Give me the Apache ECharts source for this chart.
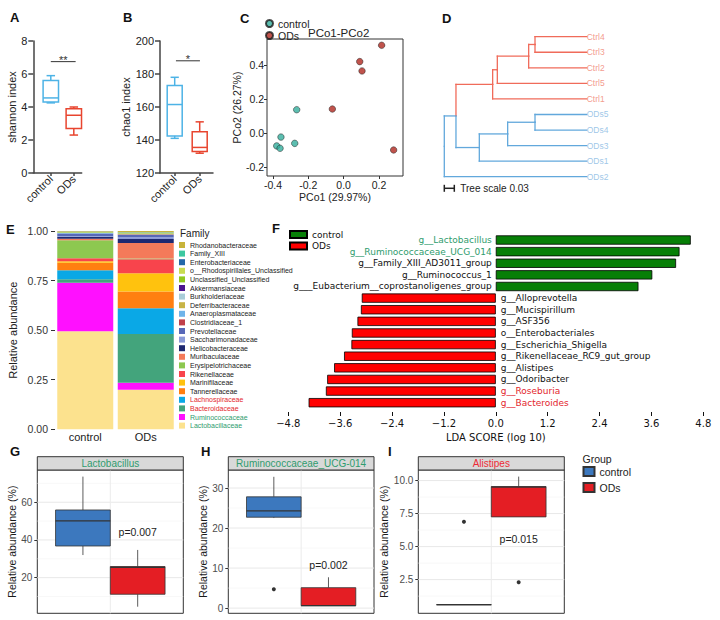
<!DOCTYPE html>
<html>
<head>
<meta charset="utf-8">
<script src="https://cdn.jsdelivr.net/npm/echarts@6.0.0/dist/echarts.min.js"></script>
<style>html,body{margin:0;padding:0;background:#fff;}#chart{width:720px;height:620px;}</style>
</head>
<body>
<div id="chart"></div>
<script>
// ================= DATA =================
const groups = ['control', 'ODs'];

// A: Shannon index, box stats [min, Q1, median, Q3, max]
const shannonControl = [4.25, 4.3, 4.55, 5.6, 5.9];
const shannonODs = [2.3, 2.7, 3.5, 3.9, 4.0];
const shannonSig = [1.0, 2.08, 6.75];          // [x from, x to, y]
// B: Chao1 index
const chao1Control = [141, 142.5, 161.5, 173, 178];
const chao1ODs = [132, 133, 135.5, 145, 151];
const chao1Sig = [1.05, 2.01, 188];
const sigLabels = ['**', '*'];

// C: PCoA coordinates [PCo1, PCo2]
const pcoaControl = [[-0.266, 0.137], [-0.355, -0.024], [-0.379, -0.076], [-0.360, -0.090], [-0.277, -0.061]];
const pcoaODs = [[-0.064, 0.141], [0.091, 0.420], [0.104, 0.365], [0.215, 0.516], [0.283, -0.100]];
const pcoaTicks = [-0.4, -0.2, 0.0, 0.2];
const pcoaYTicks = [-0.2, 0.0, 0.2, 0.4];

// D: clustering tree (node, parent, cumulative branch depth)
const treeNodes   = ['root', 'n1', 'r1', 'r2', 'r3', 'r4', 'Ctrl4', 'Ctrl3', 'Ctrl2', 'Ctrl5', 'Ctrl1', 'b1', 'b2', 'b3', 'ODs5', 'ODs4', 'ODs3', 'ODs1', 'ODs2'];
const treeParents = ['', 'root', 'n1', 'r1', 'r2', 'r3', 'r4', 'r4', 'r3', 'r2', 'r1', 'n1', 'b1', 'b2', 'b3', 'b3', 'b2', 'b1', 'root'];
const treeDepths  = [0, 0.035, 0.145, 0.159, 0.253, 0.272, 0.427, 0.427, 0.427, 0.427, 0.427, 0.105, 0.190, 0.272, 0.427, 0.427, 0.427, 0.427, 0.427];
const treeScale = 0.03;

// E: family relative abundance (legend order, top to bottom)
const families = ['Rhodanobacteraceae', 'Family_XIII', 'Enterobacteriaceae', 'o__Rhodospirillales_Unclassified', 'Unclassified_Unclassified', 'Akkermansiaceae', 'Burkholderiaceae', 'Deferribacteraceae', 'Anaeroplasmataceae', 'Clostridiaceae_1', 'Prevotellaceae', 'Saccharimonadaceae', 'Helicobacteraceae', 'Muribaculaceae', 'Erysipelotrichaceae', 'Rikenellaceae', 'Marinifilaceae', 'Tannerellaceae', 'Lachnospiraceae', 'Bacteroidaceae', 'Ruminococcaceae', 'Lactobacillaceae'];
const familyControl = [0.002, 0.001, 0.001, 0.001, 0.002, 0.001, 0.001, 0.001, 0.002, 0.001, 0.012, 0.004, 0.010, 0.008, 0.090, 0.016, 0.007, 0.038, 0.045, 0.018, 0.244, 0.495];
const familyODs     = [0.006, 0.002, 0.001, 0.001, 0.002, 0.001, 0.001, 0.002, 0.002, 0.002, 0.012, 0.008, 0.020, 0.079, 0.003, 0.071, 0.092, 0.085, 0.130, 0.245, 0.035, 0.200];

// F: LEfSe LDA scores
const ldaNames = ['g__Lactobacillus', 'g__Ruminococcaceae_UCG_014', 'g__Family_XIII_AD3011_group', 'g__Ruminococcus_1', 'g___Eubacterium__coprostanoligenes_group', 'g__Alloprevotella', 'g__Mucispirillum', 'g__ASF356', 'o__Enterobacteriales', 'g__Escherichia_Shigella', 'g__Rikenellaceae_RC9_gut_group', 'g__Alistipes', 'g__Odoribacter', 'g__Roseburia', 'g__Bacteroides'];
const ldaScores = [4.51, 4.25, 4.17, 3.62, 3.30, -3.10, -3.12, -3.20, -3.33, -3.34, -3.51, -3.74, -3.90, -3.93, -4.33];
const ldaGroup = ['control', 'control', 'control', 'control', 'control', 'ODs', 'ODs', 'ODs', 'ODs', 'ODs', 'ODs', 'ODs', 'ODs', 'ODs', 'ODs'];

// G-I: genus relative abundance (%) box stats [min, Q1, median, Q3, max]
const genusTitles = ['Lactobacillus', 'Ruminococcaceae_UCG-014', 'Alistipes'];
const lactoControl = [32.0, 36.8, 50.1, 55.9, 73.6];
const lactoODs = [4.6, 11.2, 25.5, 25.9, 34.7];
const lactoOutliers = [];
const rumiControl = [22.5, 22.7, 24.3, 27.8, 32.8];
const rumiODs = [0.6, 0.6, 0.6, 5.1, 7.7];
const rumiOutliers = [['control', 4.7]];
const alisControl = [0.6, 0.6, 0.6, 0.6, 0.6];
const alisODs = [7.25, 7.25, 9.5, 9.55, 10.3];
const alisOutliers = [['control', 6.88], ['ODs', 2.3]];
const pTexts = ['p=0.007', 'p=0.002', 'p=0.015'];
const pLabelY = [44.4, 10.75, 5.57];
const lactoTicks = [20, 40, 60], lactoMinor = [10, 30, 50, 70];
const rumiTicks = [0, 10, 20, 30], rumiMinor = [5, 15, 25];
const alisTicks = [2.5, 5.0, 7.5, 10.0], alisMinor = [1.25, 3.75, 6.25, 8.75];

// ================= STYLE / LAYOUT =================
const SANS = '"Liberation Sans", Arial, Helvetica, sans-serif';
const DV = '"DejaVu Sans", sans-serif';
const AX = '#444';
const PRISM_BLUE = '#4DB3E6', PRISM_RED = '#E8452F';
const GG_BLUE = '#3C78BE', GG_RED = '#E41E24';
const PC_CONTROL = '#33AE9C', PC_ODS = '#B0281F';
const TREE_RED = '#F06B5A', TREE_BLUE = '#62A8DC';
const familyColors = ['#C8B43A', '#3CC8A0', '#2268A8', '#C8DC50', '#90C81E', '#4B1590', '#A9CDD8', '#C8B446', '#6EB4EA', '#C0404A', '#5868B8', '#8A9AD8', '#1E2870', '#F47A5A', '#8DC850', '#F8444C', '#FFC20E', '#FF7F10', '#0AA8E6', '#43A47C', '#FF10FF', '#FCE28E'];
const GREEN_TXT = '#2F9C6E', RED_TXT = '#E3262E';
const dodgeX = { control: 0.775, ODs: 1.225 };

const chart = echarts.init(document.getElementById('chart'), null, { renderer: 'svg', width: 720, height: 620 });

// ---------- helpers ----------
function boxSeries(name, gi, x, stats, o) {
  return {
    type: 'custom', name: name, xAxisIndex: gi, yAxisIndex: gi, z: 10,
    itemStyle: { color: o.fill === 'none' ? '#fff' : o.fill, borderColor: o.stroke, borderWidth: o.lw },
    data: [[x].concat(stats)],
    renderItem: function (params, api) {
      const xv = api.value(0);
      const v = [1, 2, 3, 4, 5].map(function (i) { return api.value(i); });
      const hw = api.size([o.width, 0])[0] / 2;
      const P = v.map(function (y) { return api.coord([xv, y]); });
      const cx = P[0][0];
      const ls = { stroke: o.stroke, lineWidth: o.lw, fill: 'none' };
      const ch = [
        { type: 'line', shape: { x1: cx, y1: P[4][1], x2: cx, y2: P[3][1] }, style: ls },
        { type: 'line', shape: { x1: cx, y1: P[1][1], x2: cx, y2: P[0][1] }, style: ls },
        { type: 'rect', shape: { x: cx - hw, y: P[3][1], width: 2 * hw, height: Math.max(P[1][1] - P[3][1], 0) }, style: { fill: o.fill, stroke: o.stroke, lineWidth: o.lw } },
        { type: 'line', shape: { x1: cx - hw, y1: P[2][1], x2: cx + hw, y2: P[2][1] }, style: { stroke: o.stroke, lineWidth: o.medLw || o.lw } }
      ];
      if (o.cap) {
        const cw = hw * o.cap;
        ch.push({ type: 'line', shape: { x1: cx - cw, y1: P[4][1], x2: cx + cw, y2: P[4][1] }, style: ls });
        ch.push({ type: 'line', shape: { x1: cx - cw, y1: P[0][1], x2: cx + cw, y2: P[0][1] }, style: ls });
      }
      return { type: 'group', children: ch };
    }
  };
}
function sigSeries(gi, sig, txt) {
  return {
    type: 'custom', xAxisIndex: gi, yAxisIndex: gi, z: 6, data: [sig],
    renderItem: function (params, api) {
      const a = api.coord([api.value(0), api.value(2)]), b = api.coord([api.value(1), api.value(2)]);
      return { type: 'group', children: [
        { type: 'line', shape: { x1: a[0], y1: a[1], x2: b[0], y2: b[1] }, style: { stroke: '#333', lineWidth: 1 } },
        { type: 'text', x: (a[0] + b[0]) / 2, y: a[1] - 2, style: { text: txt, align: 'center', verticalAlign: 'middle', fontSize: 11, fill: '#333', fontFamily: SANS } }
      ] };
    }
  };
}
function ggGridSeries(gi, majors, minors) {
  const data = majors.map(function (v) { return [v, 1]; }).concat(minors.map(function (v) { return [v, 0]; }));
  data.push([1, 2]);
  return {
    type: 'custom', xAxisIndex: gi, yAxisIndex: gi, z: 1, silent: true, data: data,
    renderItem: function (params, api) {
      const cs = params.coordSys, kind = api.value(1), val = api.value(0);
      if (kind === 2) {
        const x = api.coord([val, majors[0]])[0];
        return { type: 'line', shape: { x1: x, y1: cs.y, x2: x, y2: cs.y + cs.height }, style: { stroke: '#EBEBEB', lineWidth: 1 } };
      }
      const y = api.coord([1, val])[1];
      return { type: 'line', shape: { x1: cs.x, y1: y, x2: cs.x + cs.width, y2: y }, style: { stroke: kind ? '#E8E8E8' : '#F4F4F4', lineWidth: kind ? 1 : 0.6 } };
    }
  };
}
function pSeries(gi, k) {
  return {
    type: 'custom', xAxisIndex: gi, yAxisIndex: gi, z: 12, data: [[dodgeX.ODs, pLabelY[k]]],
    renderItem: function (params, api) {
      const p = api.coord([api.value(0), api.value(1)]);
      return { type: 'text', x: p[0], y: p[1], style: { text: pTexts[k], align: 'center', verticalAlign: 'middle', fontSize: 10.5, fill: '#222', fontFamily: SANS } };
    }
  };
}
function outlierSeries(gi, pts) {
  return { type: 'scatter', xAxisIndex: gi, yAxisIndex: gi, z: 12, symbolSize: 4, itemStyle: { color: '#000' },
    data: pts.map(function (p) { return [dodgeX[p[0]], p[1]]; }) };
}
function prismX(min, max) {
  return { type: 'value', min: min, max: max,
    axisLine: { show: true, onZero: false, lineStyle: { color: AX, width: 1.5 } },
    axisTick: { show: true, customValues: [1, 2], length: 3, lineStyle: { color: AX, width: 1.5 } },
    axisLabel: { customValues: [1, 2], formatter: function (v) { return groups[Math.round(v) - 1]; }, rotate: 45, fontSize: 11, color: '#222', fontFamily: SANS, margin: 4 },
    splitLine: { show: false } };
}
function prismY(min, max, interval, name, gap) {
  return { type: 'value', min: min, max: max, interval: interval, name: name, nameLocation: 'middle', nameGap: gap,
    nameTextStyle: { fontSize: 11, color: '#222', fontFamily: SANS },
    axisLine: { show: true, onZero: false, lineStyle: { color: AX, width: 1.5 } },
    axisTick: { show: true, length: 5, lineStyle: { color: AX, width: 1.5 } },
    axisLabel: { fontSize: 11, color: '#222', fontFamily: SANS, margin: 6 },
    splitLine: { show: false } };
}
function ggX() { return { type: 'value', min: 0.4, max: 1.6, axisLine: { show: false, onZero: false }, axisTick: { show: false }, axisLabel: { show: false }, splitLine: { show: false } }; }
function ggY(min, max, ticks, gap, dec) {
  return { type: 'value', min: min, max: max, name: 'Relative abundance (%)', nameLocation: 'middle', nameGap: gap,
    nameTextStyle: { fontSize: 10.5, color: '#1a1a1a', fontFamily: SANS },
    axisLine: { show: false, onZero: false },
    axisTick: { show: true, customValues: ticks, length: 3, lineStyle: { color: '#333' } },
    axisLabel: { customValues: ticks, fontSize: 10, color: '#4d4d4d', fontFamily: SANS, margin: 5,
      formatter: function (v) { return dec ? v.toFixed(1) : String(v); } },
    splitLine: { show: false } };
}

// ---------- tree layout (from data) ----------
const childrenOf = {}, depthOf = {}, yOf = {};
treeNodes.forEach(function (n, i) { depthOf[n] = treeDepths[i]; const p = treeParents[i]; if (p) { (childrenOf[p] = childrenOf[p] || []).push(n); } });
let leafCount = 0; const leaves = [];
(function layout(n) {
  const ch = childrenOf[n];
  if (!ch) { yOf[n] = leafCount++; leaves.push(n); return; }
  ch.forEach(layout);
  yOf[n] = (yOf[ch[0]] + yOf[ch[ch.length - 1]]) / 2;
})('root');
function allCtrl(n) { const ch = childrenOf[n]; return ch ? ch.every(allCtrl) : n.indexOf('Ctrl') === 0; }
const treeSegs = [];
treeNodes.forEach(function (n, i) {
  const p = treeParents[i]; if (!p) return;
  const c = allCtrl(n) ? 1 : 0;
  treeSegs.push([depthOf[p], yOf[p], depthOf[p], yOf[n], c]);
  treeSegs.push([depthOf[p], yOf[n], depthOf[n], yOf[n], c]);
});

// ---------- axes / grids ----------
const grids = [
  { left: 33.3, top: 41, width: 48.4, height: 132 },            // A
  { left: 160, top: 41, width: 53, height: 132 },               // B
  { left: 267, top: 39, width: 136, height: 137, show: true, borderColor: '#333', borderWidth: 1, backgroundColor: '#fff' }, // C
  { left: 444.3, top: 36.7, width: 142.4, height: 140 },        // D
  { left: 55, top: 231, width: 121, height: 198.3 },            // E
  { left: 288.3, top: 234.2, width: 415, height: 174.3 },       // F
  { left: 37.3, top: 470, width: 146, height: 143.3, show: true, borderColor: '#333', borderWidth: 1, backgroundColor: '#fff' }, // G
  { left: 228.3, top: 470, width: 145.7, height: 143.3, show: true, borderColor: '#333', borderWidth: 1, backgroundColor: '#fff' }, // H
  { left: 418.3, top: 470, width: 146, height: 143.3, show: true, borderColor: '#333', borderWidth: 1, backgroundColor: '#fff' }  // I
];
const xAxes = [
  prismX(0.239, 2.343),
  prismX(0.412, 2.532),
  { type: 'value', min: -0.434, max: 0.336, name: 'PCo1 (29.97%)', nameLocation: 'middle', nameGap: 15,
    nameTextStyle: { fontSize: 10.5, color: '#222', fontFamily: SANS },
    axisLine: { show: false, onZero: false },
    axisTick: { show: true, customValues: pcoaTicks, length: 3, lineStyle: { color: '#333' } },
    axisLabel: { customValues: pcoaTicks, formatter: function (v) { return v.toFixed(1); }, fontSize: 10.5, color: '#222', fontFamily: SANS, margin: 3 },
    splitLine: { show: false } },
  { type: 'value', min: 0, max: 0.427, show: false },
  { type: 'category', data: groups, axisLine: { show: false }, axisTick: { show: false },
    axisLabel: { fontSize: 11, color: '#222', fontFamily: SANS, margin: 2 } },
  { type: 'value', min: -4.8, max: 4.8, interval: 1.2, offset: 3.5, name: 'LDA SCORE (log 10)', nameLocation: 'middle', nameGap: 20,
    nameTextStyle: { fontSize: 10, color: '#111', fontFamily: DV },
    axisLine: { show: false, onZero: false },
    axisTick: { show: true, length: 4, lineStyle: { color: '#111' } },
    axisLabel: { formatter: function (v) { return (v < 0 ? '\u2212' : '') + Math.abs(v).toFixed(1); }, fontSize: 10, color: '#111', fontFamily: DV, margin: 6 },
    splitLine: { show: false } },
  ggX(), ggX(), ggX()
];
const yAxes = [
  prismY(0, 8, 2, 'shannon index', 16),
  prismY(120, 200, 20, 'chao1 index', 27),
  { type: 'value', min: -0.253, max: 0.553, name: 'PCo2 (26.27%)', nameLocation: 'middle', nameGap: 17,
    nameTextStyle: { fontSize: 10.5, color: '#222', fontFamily: SANS },
    axisLine: { show: false, onZero: false },
    axisTick: { show: true, customValues: pcoaYTicks, length: 3, lineStyle: { color: '#333' } },
    axisLabel: { customValues: pcoaYTicks, formatter: function (v) { return v.toFixed(1); }, fontSize: 10.5, color: '#222', fontFamily: SANS, margin: 3 },
    splitLine: { show: false } },
  { type: 'value', min: 0, max: 9, inverse: true, show: false },
  { type: 'value', min: 0, max: 1, interval: 0.25, name: 'Relative abundance', nameLocation: 'middle', nameGap: 37,
    nameTextStyle: { fontSize: 11, color: '#222', fontFamily: SANS },
    axisLine: { show: false }, axisTick: { show: true, length: 4, lineStyle: { color: '#333' } },
    axisLabel: { formatter: function (v) { return v.toFixed(2); }, fontSize: 10.5, color: '#333', fontFamily: SANS, margin: 7 },
    splitLine: { show: false } },
  { type: 'category', data: ldaNames, inverse: true, show: false },
  ggY(1.1, 77.1, lactoTicks, 15, false),
  ggY(-1.3, 34.5, rumiTicks, 17, false),
  ggY(-0.05, 10.8, alisTicks, 23, true)
];
grids.forEach(function (g, i) { xAxes[i].gridIndex = i; yAxes[i].gridIndex = i; });

// ---------- series ----------
const series = [];
// A, B
const prismOpt = function (c, w) { return { fill: 'none', stroke: c, lw: 1.5, width: w, cap: 0.55 }; };
series.push(boxSeries('A:control', 0, 1, shannonControl, prismOpt(PRISM_BLUE, 0.67)));
series.push(boxSeries('A:ODs', 0, 2, shannonODs, prismOpt(PRISM_RED, 0.67)));
series.push(sigSeries(0, shannonSig, sigLabels[0]));
series.push(boxSeries('B:control', 1, 1, chao1Control, prismOpt(PRISM_BLUE, 0.6)));
series.push(boxSeries('B:ODs', 1, 2, chao1ODs, prismOpt(PRISM_RED, 0.6)));
series.push(sigSeries(1, chao1Sig, sigLabels[1]));
// C
series.push({ type: 'scatter', name: 'C:control', xAxisIndex: 2, yAxisIndex: 2, data: pcoaControl, symbolSize: 6.5,
  itemStyle: { color: PC_CONTROL, borderColor: '#1a1a1a', borderWidth: 0.6 } });
series.push({ type: 'scatter', name: 'C:ODs', xAxisIndex: 2, yAxisIndex: 2, data: pcoaODs, symbolSize: 6.5,
  itemStyle: { color: PC_ODS, borderColor: '#1a1a1a', borderWidth: 0.6 } });
// D
series.push({ type: 'custom', xAxisIndex: 3, yAxisIndex: 3, data: treeSegs, z: 3,
  renderItem: function (params, api) {
    const a = api.coord([api.value(0), api.value(1)]), b = api.coord([api.value(2), api.value(3)]);
    return { type: 'line', shape: { x1: a[0], y1: a[1], x2: b[0], y2: b[1] }, style: { stroke: api.value(4) ? TREE_RED : TREE_BLUE, lineWidth: 1.3, lineCap: 'square' } };
  } });
series.push({ type: 'scatter', xAxisIndex: 3, yAxisIndex: 3, symbolSize: 0, z: 4,
  data: leaves.map(function (n) { return { name: n, value: [depthOf[n], yOf[n]], label: { color: n.indexOf('Ctrl') === 0 ? '#F0806E' : '#86B8E2' } }; }),
  label: { show: true, position: 'right', distance: 0, formatter: '{b}', fontSize: 8.5, fontFamily: SANS } });
series.push({ type: 'custom', xAxisIndex: 3, yAxisIndex: 3, data: [[0, treeScale, leafCount - 1 + 0.745]], z: 4,
  renderItem: function (params, api) {
    const a = api.coord([api.value(0), api.value(2)]), b = api.coord([api.value(1), api.value(2)]);
    const st = { stroke: '#222', lineWidth: 1.5 };
    return { type: 'group', children: [
      { type: 'line', shape: { x1: a[0], y1: a[1], x2: b[0], y2: b[1] }, style: st },
      { type: 'line', shape: { x1: a[0], y1: a[1] - 3.5, x2: a[0], y2: a[1] + 3.5 }, style: st },
      { type: 'line', shape: { x1: b[0], y1: b[1] - 3.5, x2: b[0], y2: b[1] + 3.5 }, style: st },
      { type: 'text', x: b[0] + 6, y: b[1], style: { text: 'Tree scale ' + treeScale, verticalAlign: 'middle', fontSize: 10, fill: '#222', fontFamily: SANS } }
    ] };
  } });
// E (stacked from the bottom: last legend item first)
for (let i = families.length - 1; i >= 0; i--) {
  series.push({ type: 'bar', name: families[i], stack: 'e', xAxisIndex: 4, yAxisIndex: 4, barWidth: 56,
    data: [familyControl[i], familyODs[i]], itemStyle: { color: familyColors[i] } });
}
// F
const ldaLabelColor = function (n) { return (n === 'g__Lactobacillus' || n === 'g__Ruminococcaceae_UCG_014') ? GREEN_TXT : (n === 'g__Roseburia' || n === 'g__Bacteroides') ? RED_TXT : '#111'; };
['control', 'ODs'].forEach(function (g) {
  series.push({ type: 'bar', name: 'F:' + g, stack: 'f', xAxisIndex: 5, yAxisIndex: 5, barWidth: '80%',
    itemStyle: { color: g === 'control' ? '#077F07' : '#FF0000', borderColor: '#000', borderWidth: 0.8 },
    label: { show: true, position: g === 'control' ? 'left' : 'right', distance: g === 'control' ? 4 : 5,
      formatter: function (p) { return ldaNames[p.dataIndex]; }, fontSize: 9, fontFamily: DV },
    data: ldaScores.map(function (v, i) { return ldaGroup[i] === g ? { value: v, label: { color: ldaLabelColor(ldaNames[i]) } } : '-'; }) });
});
// G, H, I
const ggOpt = function (c) { return { fill: c, stroke: '#333', lw: 0.8, medLw: 1.2, width: 0.45 }; };
[[6, 'G', lactoControl, lactoODs, lactoOutliers, lactoTicks, lactoMinor],
 [7, 'H', rumiControl, rumiODs, rumiOutliers, rumiTicks, rumiMinor],
 [8, 'I', alisControl, alisODs, alisOutliers, alisTicks, alisMinor]].forEach(function (d, k) {
  series.push(ggGridSeries(d[0], d[5], d[6]));
  series.push(boxSeries(d[1] + ':control', d[0], dodgeX.control, d[2], ggOpt(GG_BLUE)));
  series.push(boxSeries(d[1] + ':ODs', d[0], dodgeX.ODs, d[3], ggOpt(GG_RED)));
  if (d[4].length) series.push(outlierSeries(d[0], d[4]));
  series.push(pSeries(d[0], k));
});

// ---------- text decorations ----------
const graphic = [];
function txt(t, x, y, o) {
  o = o || {};
  graphic.push({ type: 'text', x: x, y: y, z: 100, style: { text: t, fontSize: o.size || 13, fontWeight: o.weight || 'bold', fill: o.color || '#111', fontFamily: o.font || SANS, align: o.align || 'left', verticalAlign: 'middle' } });
}
[['A', 10, 17.5], ['B', 123, 17.5], ['C', 240, 18], ['D', 442, 18], ['E', 6, 229], ['F', 272, 228], ['G', 10, 451], ['H', 201, 451], ['I', 388, 451]].forEach(function (l) { txt(l[0], l[1], l[2]); });
txt('PCo1-PCo2', 308, 33, { size: 11.5, weight: 'normal', color: '#222' });
txt('Family', 180, 233, { size: 10, weight: 'normal', color: '#222' });
txt('Group', 582.5, 459, { size: 10.5, weight: 'normal', color: '#222' });
const stripColors = [GREEN_TXT, GREEN_TXT, '#EE2B36'];
[6, 7, 8].forEach(function (gi, k) {
  const g = grids[gi];
  graphic.push({ type: 'rect', z: 100, shape: { x: g.left, y: g.top - 13.3, width: g.width, height: 13.3 }, style: { fill: '#D9D9D9', stroke: '#333', lineWidth: 1 } });
  txt(genusTitles[k], g.left + g.width / 2, g.top - 6.4, { size: 10, weight: 'normal', color: stripColors[k], align: 'center' });
});

const splitName = function (n) { return n.split(':')[1]; };
const option = {
  backgroundColor: '#fff',
  animation: false,
  textStyle: { fontFamily: SANS },
  grid: grids,
  xAxis: xAxes,
  yAxis: yAxes,
  legend: [
    { left: 265, top: 18, orient: 'vertical', padding: 0, itemWidth: 7, itemHeight: 7, itemGap: 1, icon: 'circle', selectedMode: false,
      data: ['C:control', 'C:ODs'], formatter: splitName, textStyle: { fontSize: 10.5, color: '#222', fontFamily: SANS } },
    { left: 179, top: 241.5, orient: 'vertical', padding: 0, itemWidth: 6, itemHeight: 6, itemGap: 1.6, icon: 'rect', selectedMode: false,
      data: families.map(function (f) { return { name: f, textStyle: { color: (f === 'Lachnospiraceae' || f === 'Bacteroidaceae') ? RED_TXT : (f === 'Ruminococcaceae' || f === 'Lactobacillaceae') ? GREEN_TXT : '#222' } }; }),
      textStyle: { fontSize: 7, fontFamily: SANS } },
    { left: 289, top: 230, orient: 'vertical', padding: 0, itemWidth: 17, itemHeight: 7, itemGap: 2.5, icon: 'rect', selectedMode: false,
      data: ['F:control', 'F:ODs'], formatter: splitName, textStyle: { fontSize: 9, color: '#111', fontFamily: DV } },
    { left: 582.5, top: 466, orient: 'vertical', padding: 0, itemWidth: 11, itemHeight: 9, itemGap: 5, icon: 'rect', selectedMode: false,
      data: ['G:control', 'G:ODs'], formatter: splitName, textStyle: { fontSize: 10.5, color: '#222', fontFamily: SANS } }
  ],
  graphic: graphic,
  series: series
};
chart.setOption(option);
</script>
</body>
</html>
